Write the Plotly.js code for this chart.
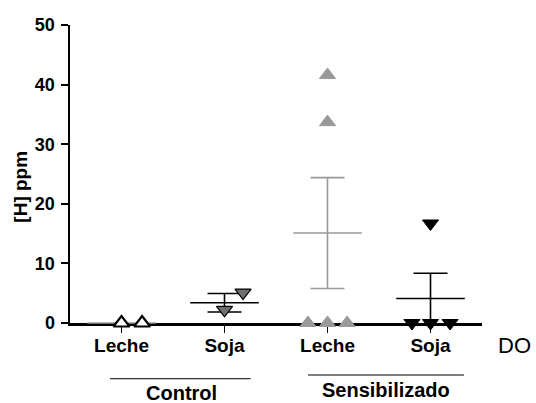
<!DOCTYPE html>
<html>
<head>
<meta charset="utf-8">
<script src="https://cdn.plot.ly/plotly-3.0.1.min.js"></script>
<style>html,body{margin:0;padding:0;background:#fff;}#chart{width:536px;height:403px;}</style>
</head>
<body>
<div id="chart"></div>
<script>
// ---- data ----
const categories = ['Leche', 'Soja', 'Leche', 'Soja'];
const groups = ['Control', 'Sensibilizado'];
const controlLeche = [0, 0];
const controlSoja = [5.1, 2.2];
const sensLeche = [41.6, 33.7, 0, 0, 0];
const sensSoja = [16.7, 0, 0, 0];
const means = [0, 3.4, 15.1, 4.1];
const sems = [0, 1.55, 9.3, 4.25];
const extraLabel = 'DO';
const yTitle = '[H] ppm';

// ---- layout helpers (positions / styles, not data) ----
const pointOffsets = [
  [0, 0.2],
  [0.18, 0],
  [0, 0, -0.19, 0, 0.19],
  [0, -0.18, 0, 0.19]
];
const seriesValues = [controlLeche, controlSoja, sensLeche, sensSoja];
const styles = [
  {symbol: 'triangle-up', fill: '#ffffff', line: '#000000', lw: 2.2, bar: '#999999'},
  {symbol: 'triangle-down', fill: '#6e6e6e', line: '#000000', lw: 1.2, bar: '#000000'},
  {symbol: 'triangle-up', fill: '#999999', line: '#999999', lw: 1, bar: '#999999'},
  {symbol: 'triangle-down', fill: '#000000', line: '#000000', lw: 1, bar: '#000000'}
];
const FONT = 'Arial, "Liberation Sans", sans-serif';

const traces = [];
// mean + SEM
seriesValues.forEach((vals, i) => {
  const st = styles[i];
  traces.push({
    type: 'scatter', mode: 'markers', x: [i + 1], y: [means[i]],
    cliponaxis: false, hoverinfo: 'skip',
    marker: {symbol: 'line-ew-open', size: 49, color: st.bar, line: {color: st.bar, width: 1.6}},
    error_y: {type: 'data', array: [sems[i]], visible: sems[i] > 0, color: st.bar, thickness: 1.6, width: 17}
  });
});
// points
seriesValues.forEach((vals, i) => {
  const st = styles[i];
  traces.push({
    type: 'scatter', mode: 'markers',
    x: vals.map((v, k) => i + 1 + pointOffsets[i][k]), y: vals,
    cliponaxis: false, hoverinfo: 'skip',
    marker: {symbol: st.symbol, size: 14, color: st.fill, line: {color: st.line, width: st.lw}}
  });
});

const layout = {
  width: 536, height: 403,
  margin: {l: 70, r: 54, t: 25, b: 80},
  paper_bgcolor: '#ffffff', plot_bgcolor: '#ffffff',
  showlegend: false,
  font: {family: FONT, color: '#000000'},
  xaxis: {
    range: [0.5, 4.5], tickmode: 'array', tickvals: [1, 2, 3, 4], ticktext: categories,
    showline: true, linecolor: '#000000', linewidth: 2.5,
    ticks: 'outside', ticklen: 7, tickwidth: 1.5, tickcolor: '#000000',
    showgrid: false, zeroline: false, layer: 'below traces', fixedrange: true,
    tickfont: {family: FONT, size: 19, weight: 'bold', color: '#000000'},
    ticklabelstandoff: -3
  },
  yaxis: {
    range: [0, 50], tickmode: 'array', tickvals: [0, 10, 20, 30, 40, 50],
    showline: true, linecolor: '#000000', linewidth: 2.5,
    ticks: 'outside', ticklen: 7, tickwidth: 2, tickcolor: '#000000',
    showgrid: false, zeroline: false, layer: 'below traces', fixedrange: true,
    tickfont: {family: FONT, size: 18, weight: 'bold', color: '#000000'},
    ticklabelstandoff: 2
  },
  shapes: [
    {type: 'line', xref: 'x', yref: 'paper', x0: 0.888, x1: 2.254, y0: -0.187, y1: -0.187, line: {color: '#000000', width: 1}},
    {type: 'line', xref: 'x', yref: 'paper', x0: 2.811, x1: 4.325, y0: -0.1745, y1: -0.1745, line: {color: '#000000', width: 1}}
  ],
  annotations: [
    {text: groups[0], xref: 'x', yref: 'paper', x: 1.578, y: -0.235, xanchor: 'center', yanchor: 'middle', showarrow: false,
     font: {family: FONT, size: 20, weight: 'bold', color: '#000000'}},
    {text: groups[1], xref: 'x', yref: 'paper', x: 3.568, y: -0.2265, xanchor: 'center', yanchor: 'middle', showarrow: false,
     font: {family: FONT, size: 20, weight: 'bold', color: '#000000'}},
    {text: extraLabel, xref: 'paper', yref: 'paper', x: 1.035, y: -0.077, xanchor: 'left', yanchor: 'middle', showarrow: false,
     font: {family: FONT, size: 22, color: '#000000'}},
    {text: yTitle, xref: 'paper', yref: 'paper', x: -0.12, y: 0.456, xanchor: 'center', yanchor: 'middle', textangle: -90, showarrow: false,
     font: {family: FONT, size: 19, weight: 'bold', color: '#000000'}}
  ]
};

Plotly.newPlot('chart', traces, layout, {displayModeBar: false, staticPlot: true});
</script>
</body>
</html>
